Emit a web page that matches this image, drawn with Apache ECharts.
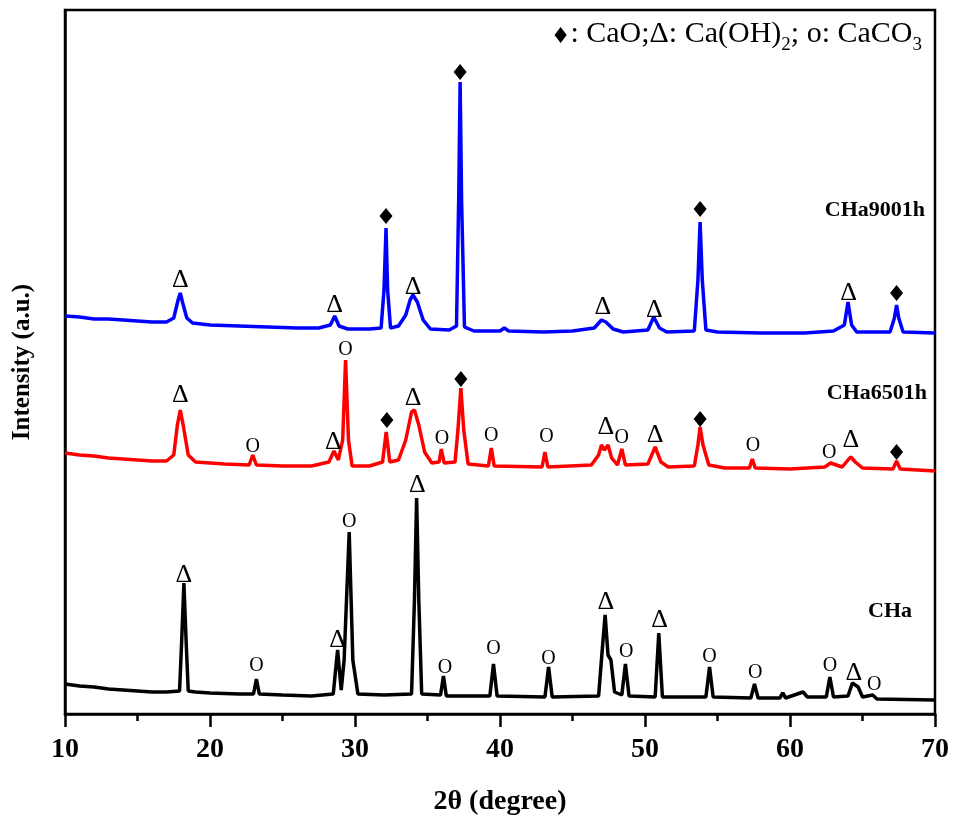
<!DOCTYPE html>
<html>
<head>
<meta charset="utf-8">
<script src="https://cdn.jsdelivr.net/npm/echarts@6/dist/echarts.min.js"></script>
<style>
  html, body { margin: 0; padding: 0; background: #fff; }
  #main { width: 955px; height: 822px; }
</style>
</head>
<body>
<div id="main"></div>
<script>
// 2θ (degree) vs intensity (a.u.), patterns stacked with offsets
const cha9001h = [[10.0,398],[11.0,397],[12.0,395],[13.0,395],[14.0,394],[15.0,393],[16.0,392],[17.0,392],[17.5,396],[17.8,414],[17.95,421],[18.1,412],[18.4,396],[18.8,391],[20,389],[22,388],[24,387],[26,386],[27.5,386],[28.3,389],[28.6,398],[28.9,388],[29.5,385],[31.0,385],[31.8,386],[32.0,424],[32.14,486],[32.25,424],[32.45,386],[33.0,388],[33.5,399],[33.8,414],[34.0,419],[34.3,412],[34.7,394],[35.2,385],[36.5,384],[37.0,388],[37.15,514],[37.25,632],[37.35,514],[37.55,387],[38.2,383],[40.0,383],[40.3,386],[40.6,383],[43,382],[45,383],[46.5,386],[47.0,394],[47.3,392],[47.8,385],[48.5,382],[50.2,384],[50.6,397],[51.0,386],[51.5,382],[53.4,383],[53.65,434],[53.8,492],[53.95,434],[54.2,384],[55,382],[58,381],[61,381],[63,383],[63.75,389],[64.0,412],[64.25,389],[64.6,382],[66.9,382],[67.2,396],[67.35,409],[67.5,396],[67.8,382],[70,381]];

const cha6501h = [[10,261],[11,259],[12,258],[13,256],[14,255],[15,254],[16,253],[17,253],[17.5,259],[17.75,289],[17.95,304],[18.15,289],[18.5,259],[19,252],[21,250],[22.7,249],[22.95,259],[23.2,249],[25,248],[27,248],[28.2,252],[28.55,263],[28.85,254],[29.15,274],[29.35,354],[29.55,274],[29.8,248],[31,248],[31.9,252],[32.15,282],[32.4,252],[33.0,254],[33.5,274],[33.9,302],[34.1,304],[34.4,289],[34.8,262],[35.3,251],[35.8,252],[35.95,265],[36.15,251],[36.9,252],[37.1,284],[37.3,326],[37.5,284],[37.8,250],[39.2,248],[39.4,266],[39.6,248],[42.9,247],[43.1,262],[43.3,247],[46.3,249],[46.8,259],[47.0,269],[47.2,264],[47.45,269],[47.7,256],[48.1,249],[48.4,265],[48.65,249],[50.2,250],[50.7,267],[51.1,252],[51.6,247],[53.4,248],[53.65,269],[53.8,287],[54.0,269],[54.4,249],[55.5,246],[57.2,246],[57.4,255],[57.6,246],[60,245],[62.4,247],[62.8,251],[63.6,247],[64.0,254],[64.2,257],[64.5,252],[65,246],[67.1,245],[67.35,253],[67.6,245],[70,243]];

const cha = [[10,30],[11,28],[12,27],[13,25],[14,24],[15,23],[16,22],[17,22],[17.9,23],[18.05,74],[18.2,131],[18.35,74],[18.5,23],[19,22],[20,21],[22,20],[23.0,20],[23.2,35],[23.4,20],[25,19],[27,18],[28.5,20],[28.8,64],[29.05,24],[29.25,54],[29.6,182],[29.85,54],[30.2,20],[32,19],[33.9,20],[34.1,114],[34.25,216],[34.4,114],[34.6,20],[35.9,19],[36.1,38],[36.3,18],[39.3,18],[39.55,50],[39.8,18],[43.1,17],[43.35,47],[43.6,17],[46.8,18],[47.05,64],[47.25,99],[47.45,59],[47.65,54],[47.9,22],[48.4,19],[48.65,50],[48.9,18],[50.7,17],[50.95,81],[51.2,17],[54.2,17],[54.45,47],[54.7,17],[57.3,16],[57.55,30],[57.8,16],[59.3,16],[59.5,21],[59.7,16],[60.9,22],[61.2,17],[62.5,17],[62.75,37],[63.0,17],[64.0,18],[64.3,31],[64.7,27],[65.0,17],[65.7,19],[66,15],[70,14]];

// phase markers: ◆ CaO, Δ Ca(OH)2, O CaCO3
const marks9001h = [[17.95,434,'Δ'],[28.6,409,'Δ'],[32.14,498,'◆'],[34.0,427,'Δ'],[37.25,642,'◆'],[47.1,407,'Δ'],[50.65,404,'Δ'],[53.8,505,'◆'],[64.05,421,'Δ'],[67.35,421,'◆']];
const marks6501h = [[17.95,319,'Δ'],[22.95,267,'O'],[28.5,272,'Δ'],[29.35,364,'O'],[32.2,294,'◆'],[34.0,316,'Δ'],[36.0,275,'O'],[37.3,335,'◆'],[39.4,278,'O'],[43.2,277,'O'],[47.3,287,'Δ'],[48.4,276,'O'],[50.7,279,'Δ'],[53.8,295,'◆'],[57.45,268,'O'],[62.7,261,'O'],[64.2,274,'Δ'],[67.35,262,'◆']];
const marksCha = [[18.2,139,'Δ'],[23.2,48,'O'],[28.8,74,'Δ'],[29.6,192,'O'],[34.3,229,'Δ'],[36.2,46,'O'],[39.55,65,'O'],[43.35,55,'O'],[47.3,112,'Δ'],[48.7,62,'O'],[51.0,94,'Δ'],[54.45,57,'O'],[57.6,41,'O'],[62.75,48,'O'],[64.4,41,'Δ'],[65.8,29,'O']];

const xTicks = [10, 20, 30, 40, 50, 60, 70];

const serif = '"Liberation Serif", "Times New Roman", serif';
const allMarks = marks9001h.concat(marks6501h, marksCha);
const diamonds = allMarks.filter(m => m[2] === '◆').map(m => [m[0], m[1]]);
const letters = allMarks.filter(m => m[2] !== '◆').map(m => ({ name: m[2], value: [m[0], m[1]] }));

let chart = echarts.init(document.getElementById('main'));
let option = {
    backgroundColor: '#fff',
    animation: false,
    title: {
        right: 28,
        top: 14,
        text: '{d|♦}{t|: CaO;Δ: Ca(OH)}{s|2}{t|; o: CaCO}{s|3}',
        textStyle: {
            fontWeight: 'normal',
            rich: {
                d: { fontFamily: '"DejaVu Sans", sans-serif', fontWeight: 'normal', fontSize: 22, lineHeight: 24, verticalAlign: 'middle', color: '#000' },
                t: { fontFamily: serif, fontWeight: 'normal', fontSize: 30, lineHeight: 36, verticalAlign: 'top', color: '#000' },
                s: { fontFamily: serif, fontWeight: 'normal', fontSize: 19, lineHeight: 12, verticalAlign: 'bottom', color: '#000' }
            }
        }
    },
    graphic: [
        { type: 'text', right: 30, top: 199, style: { text: 'CHa9001h', font: 'bold 22px ' + serif, fill: '#000' } },
        { type: 'text', right: 28, top: 382, style: { text: 'CHa6501h', font: 'bold 22px ' + serif, fill: '#000' } },
        { type: 'text', right: 43, top: 600, style: { text: 'CHa', font: 'bold 22px ' + serif, fill: '#000' } }
    ],
    grid: {
        left: 65, right: 20, top: 10, bottom: 108,
        show: true, borderColor: '#000', borderWidth: 2.5
    },
    xAxis: {
        type: 'value',
        min: xTicks[0], max: xTicks[xTicks.length - 1], interval: 10,
        name: '2θ (degree)',
        nameLocation: 'middle',
        nameGap: 74,
        nameTextStyle: { fontFamily: serif, fontWeight: 'bold', fontSize: 28, color: '#000' },
        axisLine: { lineStyle: { color: '#000', width: 2.5 } },
        axisTick: { length: 13, lineStyle: { color: '#000', width: 2.5 } },
        minorTick: { show: true, splitNumber: 2, length: 7, lineStyle: { color: '#000', width: 2.5 } },
        axisLabel: { fontFamily: serif, fontWeight: 'bold', fontSize: 28, color: '#000', margin: 22 },
        splitLine: { show: false }
    },
    yAxis: {
        type: 'value',
        min: 0, max: 704,
        name: 'Intensity (a.u.)',
        nameLocation: 'middle',
        nameGap: 30,
        nameTextStyle: { fontFamily: serif, fontWeight: 'bold', fontSize: 25, color: '#000' },
        axisLine: { show: true, lineStyle: { color: '#000', width: 2.5 } },
        axisTick: { show: false },
        axisLabel: { show: false },
        splitLine: { show: false }
    },
    series: [
        { name: 'CHa9001h', type: 'line', data: cha9001h, symbol: 'none', lineStyle: { color: '#0000ff', width: 3.5 } },
        { name: 'CHa6501h', type: 'line', data: cha6501h, symbol: 'none', lineStyle: { color: '#ff0000', width: 3.5 } },
        { name: 'CHa', type: 'line', data: cha, symbol: 'none', lineStyle: { color: '#000', width: 3.5 } },
        {
            name: 'CaO', type: 'scatter', data: diamonds, symbol: 'diamond', symbolSize: [13, 16],
            itemStyle: { color: '#000', opacity: 1 }, z: 5
        },
        {
            name: 'marks', type: 'scatter', data: letters, symbolSize: 1,
            itemStyle: { color: 'rgba(0,0,0,0)', opacity: 1 },
            label: {
                show: true, position: 'inside',
                formatter: p => p.name === 'Δ' ? '{a|Δ}' : '{o|O}',
                rich: {
                    a: { fontFamily: serif, fontSize: 26, color: '#000' },
                    o: { fontFamily: serif, fontSize: 20, color: '#000' }
                }
            },
            labelLayout: { hideOverlap: false },
            z: 5
        }
    ]
};
chart.setOption(option);
</script>
</body>
</html>
